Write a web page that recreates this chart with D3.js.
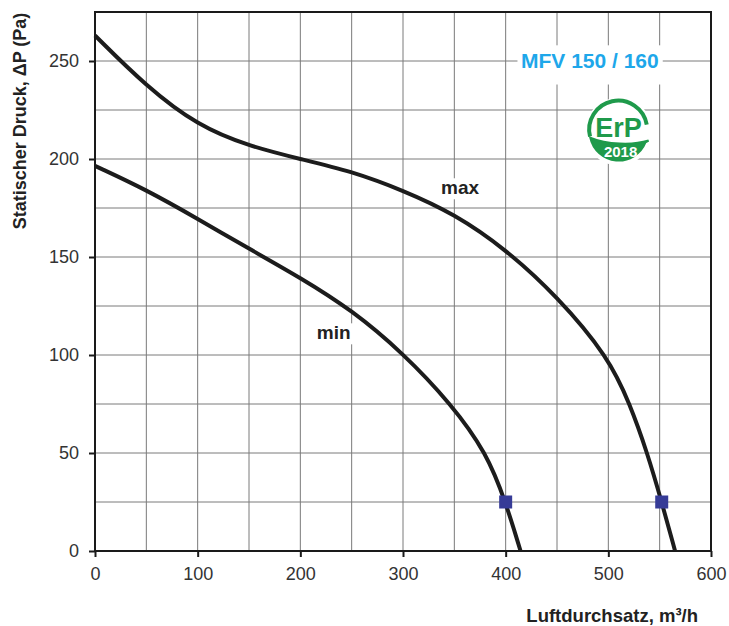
<!DOCTYPE html>
<html><head><meta charset="utf-8">
<script src="https://cdn.jsdelivr.net/npm/d3@7"></script>
<style>
html,body{margin:0;padding:0;background:#fff;}
svg{display:block;}
</style></head>
<body>
<svg id="chart" width="729" height="626"></svg>
<script>
// ---- data ----
const xTicks = [0, 100, 200, 300, 400, 500, 600];
const yTicks = [0, 50, 100, 150, 200, 250];
const maxFlow = [0, 50, 100, 150, 200, 250, 300, 350, 400, 450, 500, 521, 538, 552, 565];
const maxPressure = [263, 237, 217, 206.5, 200, 193.7, 184, 172, 154, 130, 99, 75, 50, 25, 0];
const minFlow = [0, 50, 100, 150, 200, 250, 300, 347, 381.5, 400, 414.5];
const minPressure = [196.5, 184.3, 169.5, 154.2, 139.5, 123, 101, 75, 50, 25, 0];
const markerFlow = [400, 552];
const markerPressure = [25, 25];
const curveNames = ["max", "min"];
const title = "MFV 150 / 160";
const xTitle = "Luftdurchsatz, m³/h";
const yTitle = "Statischer Druck, ΔP (Pa)";

// ---- layout ----
const svg = d3.select("#chart");
const m = {left: 95, top: 12, right: 18, bottom: 75};
const W = 729 - m.left - m.right, H = 626 - m.top - m.bottom;
const x = d3.scaleLinear().domain([0, 600]).range([0, W]);
const y = d3.scaleLinear().domain([0, 275]).range([H, 0]);
const g = svg.append("g").attr("transform", `translate(${m.left},${m.top})`);
const font = "'Liberation Sans', Arial, sans-serif";

// grid
g.append("g").selectAll("line").data(d3.range(50, 600, 50)).join("line")
  .attr("x1", d => x(d)).attr("x2", d => x(d)).attr("y1", 0).attr("y2", H)
  .attr("stroke", "#7a7a7a").attr("stroke-width", 1);
g.append("g").selectAll("line").data(d3.range(25, 276, 25)).join("line")
  .attr("x1", 0).attr("x2", W).attr("y1", d => y(d)).attr("y2", d => y(d))
  .attr("stroke", "#7a7a7a").attr("stroke-width", 1);

// title box + logo background
g.append("rect").attr("x", x(411.5)).attr("y", y(258)).attr("width", x(553) - x(411.5)).attr("height", y(238) - y(258)).attr("fill", "#fff");
const lx = x(510), ly = y(214);
g.append("circle").attr("cx", lx).attr("cy", ly).attr("r", 34).attr("fill", "#fff");

// curve label positions (data units)
const maxLab = {fx: 337, fy: 182};
const minLab = {fx: 216, fy: 108};
[maxLab, minLab].forEach(l => {
  g.append("rect").attr("x", x(l.fx) - 3).attr("y", y(l.fy) - 16).attr("width", 48).attr("height", 21).attr("fill", "#fff");
});

// frame
g.append("rect").attr("x", 0).attr("y", 0).attr("width", W).attr("height", H)
  .attr("fill", "none").attr("stroke", "#1a1a1a").attr("stroke-width", 2);

// axes
const xa = g.append("g").attr("transform", `translate(0,${H})`)
  .call(d3.axisBottom(x).tickValues(xTicks).tickSize(6).tickPadding(10).tickFormat(d3.format("d")));
const ya = g.append("g")
  .call(d3.axisLeft(y).tickValues(yTicks).tickSize(6).tickPadding(10).tickFormat(d3.format("d")));
[xa, ya].forEach(a => {
  a.select(".domain").remove();
  a.selectAll(".tick line").attr("stroke", "#1a1a1a").attr("stroke-width", 2);
  a.selectAll(".tick text").attr("fill", "#333").style("font-family", font).style("font-size", "18px");
});

// curves
const line = d3.line().x(d => x(d[0])).y(d => y(d[1])).curve(d3.curveBasis);
const maxData = maxFlow.map((f, i) => [f, maxPressure[i]]);
const minData = minFlow.map((f, i) => [f, minPressure[i]]);
[maxData, minData].forEach(d => {
  g.append("path").datum(d).attr("d", line).attr("fill", "none")
    .attr("stroke", "#1c1c1c").attr("stroke-width", 4).attr("stroke-linecap", "butt");
});

// markers
g.selectAll("rect.mk").data(markerFlow.map((f, i) => [f, markerPressure[i]])).join("rect")
  .attr("class", "mk").attr("x", d => x(d[0]) - 6.5).attr("y", d => y(d[1]) - 6.5)
  .attr("width", 13).attr("height", 13).attr("fill", "#363b97");

// curve labels
[[maxLab, curveNames[0]], [minLab, curveNames[1]]].forEach(([l, t]) => {
  g.append("text").attr("x", x(l.fx)).attr("y", y(l.fy)).text(t)
    .attr("fill", "#222").style("font-family", font)
    .style("font-weight", "bold").style("font-size", "19px");
});

// title
g.append("text").attr("x", x(482)).attr("y", y(246.5)).attr("text-anchor", "middle").text(title)
  .attr("fill", "#1ea7ea").style("font-family", font)
  .style("font-weight", "bold").style("font-size", "21px");

// ErP logo
const R = 29, green = "#1f9a4b";
const pt = a => [lx + R * Math.cos(a * Math.PI / 180), ly + R * Math.sin(a * Math.PI / 180)];
const a0 = pt(170), a1 = pt(-14);
g.append("path").attr("d", `M${a0[0]},${a0[1]} A${R},${R} 0 1 1 ${a1[0]},${a1[1]}`)
  .attr("fill", "none").attr("stroke", green).attr("stroke-width", 4);
const b0 = pt(168), b1 = pt(22);
g.append("path").attr("d",
  `M${b0[0]},${b0[1]} C${lx - 12},${ly + 13} ${lx + 14},${ly + 14} ${lx + 30},${ly + 9} L${b1[0]},${b1[1]} A${R},${R} 0 0 1 ${b0[0]},${b0[1]} Z`)
  .attr("fill", green).attr("stroke", green).attr("stroke-width", 2);
g.append("text").attr("x", lx).attr("y", ly + 5).attr("text-anchor", "middle").text("ErP")
  .attr("fill", green).style("font-family", "'Liberation Sans Narrow', 'Liberation Sans', Arial, sans-serif")
  .style("font-weight", "bold").style("font-size", "27px");
g.append("text").attr("x", lx + 2).attr("y", ly + 25).attr("text-anchor", "middle").text("2018")
  .attr("fill", "#fff").style("font-family", "'Liberation Sans Narrow', 'Liberation Sans', Arial, sans-serif")
  .style("font-weight", "bold").style("font-size", "15px");

// axis titles
svg.append("text").attr("x", 698).attr("y", 622).attr("text-anchor", "end").text(xTitle)
  .attr("fill", "#222").style("font-family", font)
  .style("font-weight", "bold").style("font-size", "18.5px");
svg.append("text").attr("transform", "translate(26,121) rotate(-90)").attr("text-anchor", "middle").text(yTitle)
  .attr("fill", "#222").style("font-family", font)
  .style("font-weight", "bold").style("font-size", "18px");
</script>
</body></html>
